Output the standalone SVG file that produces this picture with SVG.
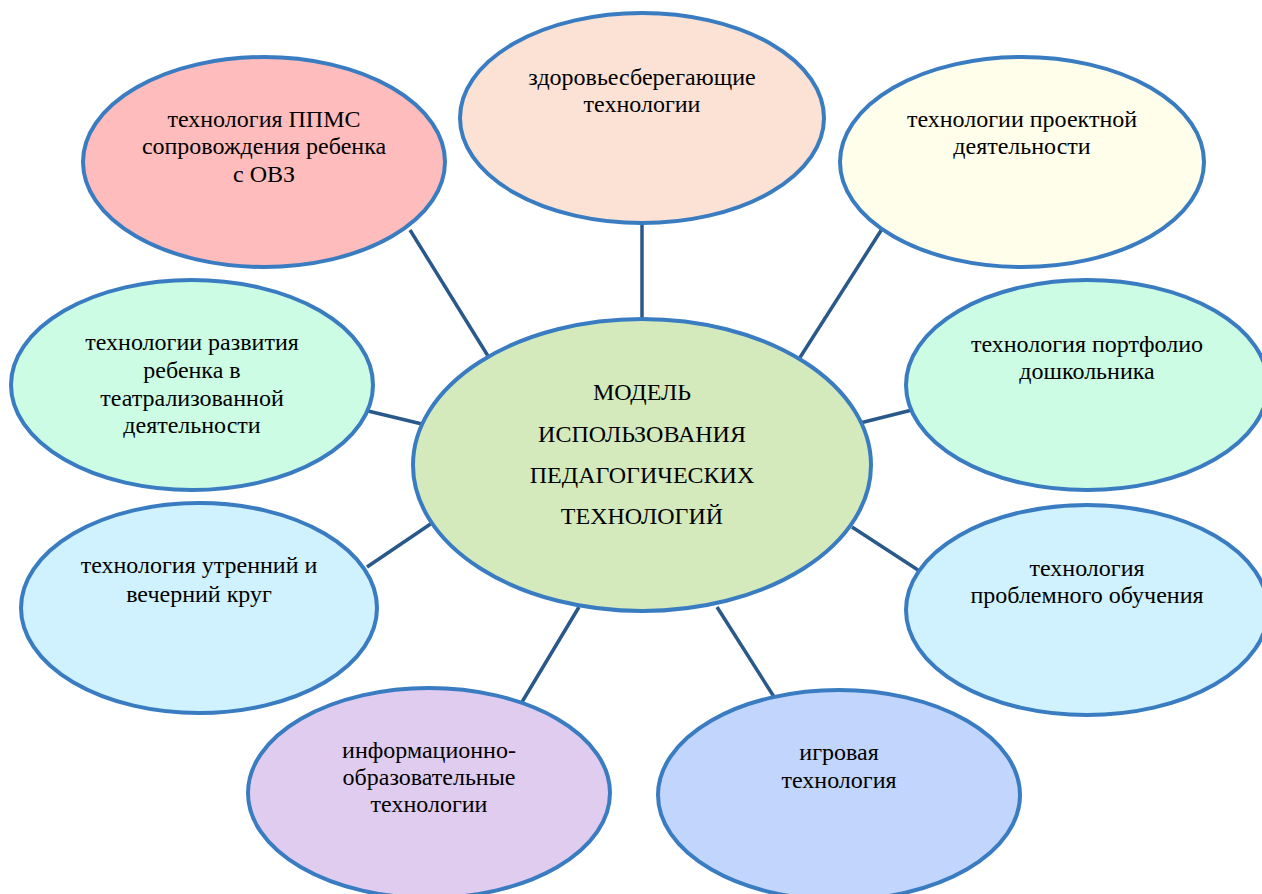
<svg xmlns="http://www.w3.org/2000/svg" width="1262" height="894" viewBox="0 0 1262 894">
<style>
.n{stroke:#3a7cc1;stroke-width:4}
.c{stroke:#28598a;stroke-width:3.5;fill:none}
text{font-family:"Liberation Serif","Times New Roman",serif;font-size:24px;fill:#000;text-anchor:middle}
</style>
<rect x="0" y="0" width="1262" height="894" fill="#ffffff"/>
<g id="connectors">
<line class="c" x1="410" y1="230" x2="488" y2="356"/>
<line class="c" x1="642" y1="223" x2="642" y2="320"/>
<line class="c" x1="882" y1="229" x2="799" y2="359"/>
<line class="c" x1="368" y1="411" x2="422" y2="424"/>
<line class="c" x1="912" y1="410" x2="860" y2="423"/>
<line class="c" x1="367" y1="567" x2="432" y2="523"/>
<line class="c" x1="852" y1="527" x2="918" y2="570"/>
<line class="c" x1="579" y1="607" x2="522" y2="702"/>
<line class="c" x1="717" y1="607" x2="776" y2="700"/>
</g>
<g id="center">
<ellipse class="n" cx="642" cy="465" rx="229" ry="146" fill="#d4eabc"/>
<text x="642" y="400">МОДЕЛЬ</text>
<text x="642" y="442">ИСПОЛЬЗОВАНИЯ</text>
<text x="642" y="483">ПЕДАГОГИЧЕСКИХ</text>
<text x="642" y="524">ТЕХНОЛОГИЙ</text>
</g>
<g id="ppms">
<ellipse class="n" cx="264" cy="162" rx="181" ry="105" fill="#ffbcbc"/>
<text x="264" y="127">технология ППМС</text>
<text x="264" y="154">сопровождения ребенка</text>
<text x="264" y="182">с ОВЗ</text>
</g>
<g id="health">
<ellipse class="n" cx="642" cy="118" rx="182" ry="105" fill="#fbe2d5"/>
<text x="642" y="85">здоровьесберегающие</text>
<text x="642" y="112">технологии</text>
</g>
<g id="project">
<ellipse class="n" cx="1022" cy="162" rx="182" ry="105" fill="#fffeea"/>
<text x="1022" y="127">технологии проектной</text>
<text x="1022" y="154">деятельности</text>
</g>
<g id="theatre">
<ellipse class="n" cx="192" cy="385" rx="181" ry="105" fill="#ccfce3"/>
<text x="192" y="350">технологии развития</text>
<text x="192" y="378">ребенка в</text>
<text x="192" y="406">театрализованной</text>
<text x="192" y="433">деятельности</text>
</g>
<g id="portfolio">
<ellipse class="n" cx="1087" cy="385" rx="181" ry="105" fill="#ccfce3"/>
<text x="1087" y="352">технология портфолио</text>
<text x="1087" y="379">дошкольника</text>
</g>
<g id="circle">
<ellipse class="n" cx="199" cy="608" rx="178" ry="105" fill="#d0f1fe"/>
<text x="199" y="573">технология утренний и</text>
<text x="199" y="602">вечерний круг</text>
</g>
<g id="problem">
<ellipse class="n" cx="1087" cy="610" rx="181" ry="105" fill="#d0f1fe"/>
<text x="1087" y="576">технология</text>
<text x="1087" y="603">проблемного обучения</text>
</g>
<g id="ict">
<ellipse class="n" cx="429" cy="793" rx="181" ry="105" fill="#e0ccef"/>
<text x="429" y="758">информационно-</text>
<text x="429" y="785">образовательные</text>
<text x="429" y="812">технологии</text>
</g>
<g id="game">
<ellipse class="n" cx="839" cy="795" rx="181" ry="105" fill="#c1d5fd"/>
<text x="839" y="760">игровая</text>
<text x="839" y="788">технология</text>
</g>
</svg>
